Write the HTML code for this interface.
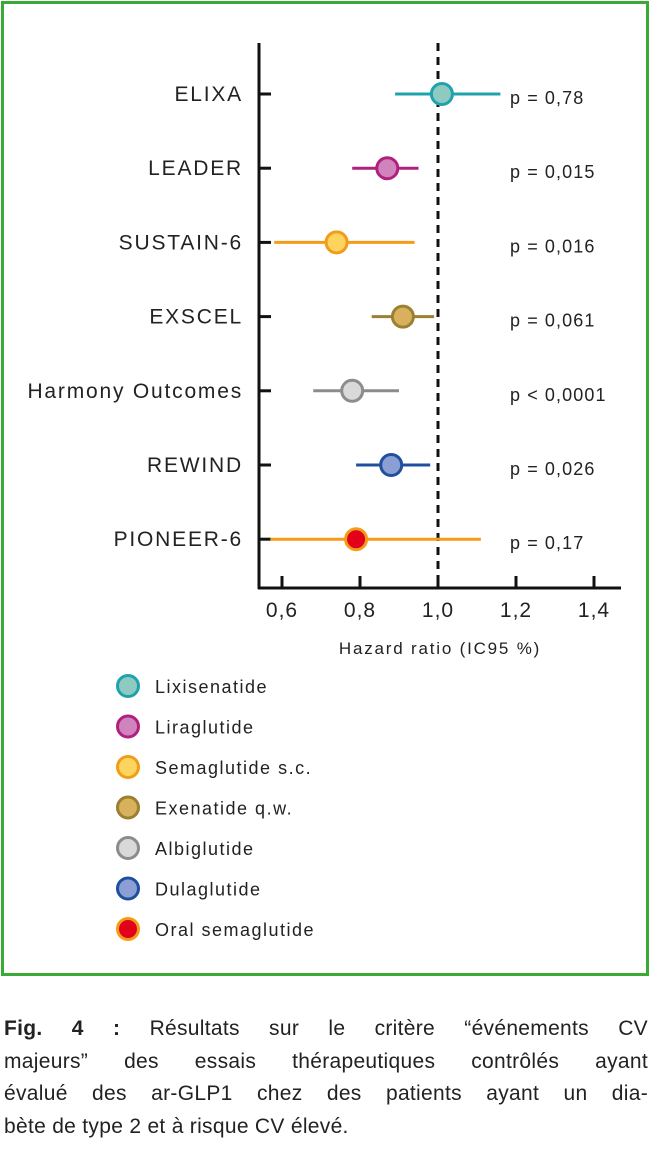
<!DOCTYPE html>
<html><head><meta charset="utf-8"><style>
body{margin:0;background:#fff;width:651px;height:1151px;overflow:hidden;font-family:"Liberation Sans",sans-serif}
#cap{position:absolute;left:4px;top:1013px;width:644px;font-size:21px;line-height:32.7px;color:#222;letter-spacing:0.3px}
#cap span{display:block;text-align:justify;text-align-last:justify;white-space:nowrap}
#cap span.last{text-align-last:left}
</style></head><body>
<svg id="chart" width="651" height="1000" style="position:absolute;left:0;top:0" font-family="Liberation Sans, sans-serif">
<rect x="2.5" y="2.5" width="645" height="972" fill="none" stroke="#3aa935" stroke-width="3"/>
<g id="plot"></g>
</svg>
<div id="cap"><span><b>Fig. 4 :</b> Résultats sur le critère “événements CV</span><span>majeurs” des essais thérapeutiques contrôlés ayant</span><span>évalué des ar-GLP1 chez des patients ayant un dia-</span><span class="last">bète de type 2 et à risque CV élevé.</span></div>
<script>
const trials=["ELIXA","LEADER","SUSTAIN-6","EXSCEL","Harmony Outcomes","REWIND","PIONEER-6"];
const hr=[1.01,0.87,0.74,0.91,0.78,0.88,0.79];
const lo=[0.89,0.78,0.58,0.83,0.68,0.79,0.57];
const hi=[1.16,0.95,0.94,0.99,0.90,0.98,1.11];
const pvals=["p = 0,78","p = 0,015","p = 0,016","p = 0,061","p < 0,0001","p = 0,026","p = 0,17"];
const drugs=["Lixisenatide","Liraglutide","Semaglutide s.c.","Exenatide q.w.","Albiglutide","Dulaglutide","Oral semaglutide"];
const ticks=[0.6,0.8,1.0,1.2,1.4];
const tickLabels=["0,6","0,8","1,0","1,2","1,4"];
const lineCol=["#1ea3ad","#b0207f","#f39c1a","#9a8030","#8c8c8c","#1f4f9e","#f39c1a"];
const fillCol=["#8fcac0","#d183bd","#fdd55e","#d9b15e","#d9d9d9","#8b9fd4","#e3001b"];
const ns="http://www.w3.org/2000/svg";
const g=document.getElementById("plot");
const X=v=>282+(v-0.6)*390;
const Y=i=>94+i*74.2;
function mk(t,a,txt){const e=document.createElementNS(ns,t);for(const k in a)e.setAttribute(k,a[k]);if(txt!==undefined)e.textContent=txt;g.appendChild(e);return e;}
let e;
e=mk("line",{x1:259,y1:43,x2:259,y2:589,stroke:"#111","stroke-width":3});


e=mk("line",{x1:258,y1:588,x2:621,y2:588,stroke:"#111","stroke-width":3});


e=mk("line",{x1:X(1),y1:43,x2:X(1),y2:588,stroke:"#111","stroke-width":3,"stroke-dasharray":"8,6"});


ticks.forEach((t,i)=>{
 e=mk("line",{x1:X(t),y1:576,x2:X(t),y2:588,stroke:"#111","stroke-width":3});
 
 
 e=mk("text",{x:X(t),y:617,"text-anchor":"middle","font-size":21,fill:"#222","letter-spacing":1},tickLabels[i]);
 
 
});
e=mk("text",{x:440,y:654,"text-anchor":"middle","font-size":17,fill:"#222","letter-spacing":1.8},"Hazard ratio (IC95 %)");


trials.forEach((n,i)=>{
 const y=Y(i);
 e=mk("line",{x1:259,y1:y,x2:271,y2:y,stroke:"#111","stroke-width":3});
 
 
 e=mk("text",{x:243,y:y+7,"text-anchor":"end","font-size":21,fill:"#222","letter-spacing":1.8},n);
 
 
 e=mk("line",{x1:X(lo[i]),y1:y,x2:X(hi[i]),y2:y,stroke:lineCol[i],"stroke-width":3});
 
 
 e=mk("circle",{cx:X(hr[i]),cy:y,r:10.5,fill:fillCol[i],stroke:lineCol[i],"stroke-width":3});
 
 
 e=mk("text",{x:510,y:y+10,"font-size":18,fill:"#222","letter-spacing":1.1},pvals[i]);
 
 
});
drugs.forEach((d,i)=>{
 const y=686+i*40.5;
 e=mk("circle",{cx:128,cy:y,r:10.5,fill:fillCol[i],stroke:lineCol[i],"stroke-width":3});
 
 
 e=mk("text",{x:155,y:y+7,"font-size":18,fill:"#222","letter-spacing":1.5},d);
 
 
});
</script>
</body></html>
